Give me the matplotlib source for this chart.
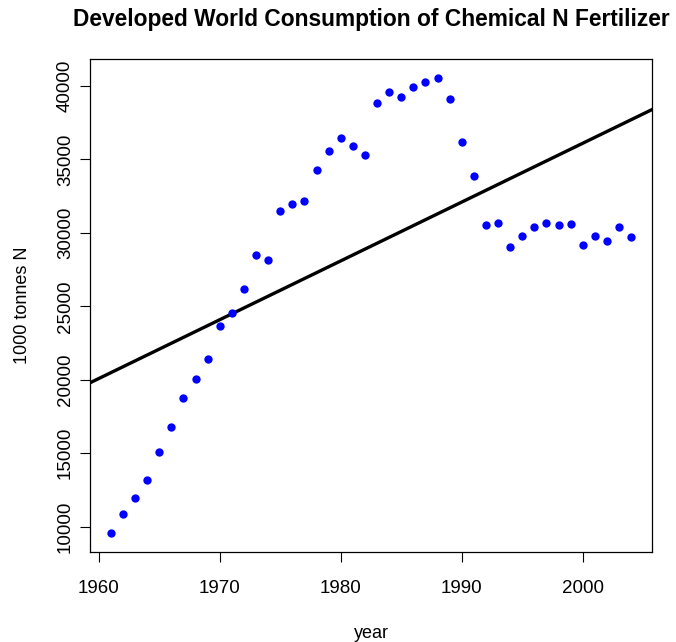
import numpy as np
import matplotlib
matplotlib.use("Agg")
import matplotlib.pyplot as plt

years = list(range(1961, 2005))
consumption = [9545, 10856, 11964, 13213, 15091, 16789, 18759, 20050, 21431, 23651,
               24556, 26187, 28496, 28134, 31486, 31961, 32142, 34248, 35584, 36467,
               35879, 35312, 38822, 39570, 39253, 39910, 40294, 40566, 39072, 36150,
               33863, 30533, 30670, 29040, 29787, 30376, 30670, 30533, 30602, 29153,
               29787, 29448, 30376, 29720]
x_ticks = [1960, 1970, 1980, 1990, 2000]
y_ticks = [10000, 15000, 20000, 25000, 30000, 35000, 40000]

plt.rcParams['font.family'] = ['Liberation Sans', 'DejaVu Sans']

fig = plt.figure(figsize=(6.76, 6.42), dpi=100)
ax = fig.add_axes([90/676, 1-551.7/642, (652-90)/676, (551.7-59.3)/642])

x = np.array(years, dtype=float)
y = np.array(consumption, dtype=float)
ax.plot(x, y, 'o', color='#0000ff', markersize=6, markeredgewidth=0, zorder=3)

xmin = x.min() - 0.04*(x.max()-x.min())
xmax = x.max() + 0.04*(x.max()-x.min())
ymin = y.min() - 0.04*(y.max()-y.min())
ymax = y.max() + 0.04*(y.max()-y.min())
ax.set_xlim(xmin, xmax)
ax.set_ylim(ymin, ymax)

b, a = np.polyfit(x, y, 1)
ax.axline((0, a), slope=b, color='black', lw=2.4, zorder=2)

ax.set_xticks(x_ticks)
ax.set_yticks(y_ticks)
ax.set_yticklabels([str(t) for t in y_ticks], rotation=90, va='center')
ax.tick_params(axis='both', direction='out', length=7.5, width=0.8, labelsize=13.5, color='black')
ax.tick_params(axis='x', pad=13)
ax.tick_params(axis='y', pad=4)
for s in ax.spines.values():
    s.set_linewidth(0.9)

ax.set_xlabel('year', fontsize=13, labelpad=20)
ax.set_ylabel('1000 tonnes N', fontsize=13, labelpad=19)
ax.set_title('Developed World Consumption of Chemical N Fertilizer', fontsize=16.4, fontweight='bold', pad=24)

fig.savefig('out.png', dpi=100)
